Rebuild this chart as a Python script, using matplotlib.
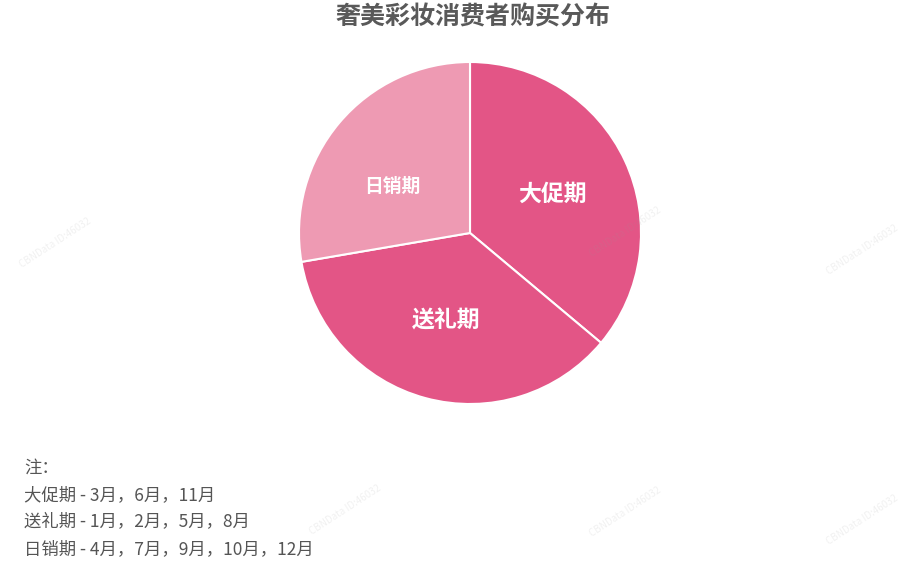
import matplotlib
matplotlib.use('Agg')
import matplotlib.pyplot as plt

plt.rcParams['font.family'] = ['Noto Sans CJK SC', 'DejaVu Sans']

# data
periods = ['大促期', '送礼期', '日销期']
shares = [36.1, 36.2, 27.7]
colors = ['#e35586', '#e35586', '#ee9ab3']
label_sizes = [16.5, 16.5, 13.5]

notes = [
    '注：',
    '大促期 - 3月，6月，11月',
    '送礼期 - 1月，2月，5月，8月',
    '日销期 - 4月，7月，9月，10月，12月',
]

W, H = 909, 574
fig = plt.figure(figsize=(W / 100, H / 100), dpi=100)
fig.patch.set_facecolor('white')

# faint watermarks
for wx, wy in [(55, 243), (625, 232), (862, 250), (345, 510), (625, 512), (862, 520)]:
    fig.text(wx / W, 1 - wy / H, 'CBNData ID:46032', fontsize=7, color='#999999',
             alpha=0.14, rotation=33, ha='center', va='center', zorder=5)

# pie centred at (470, 233), radius 171 px
cx, cy, r = 470, 233, 171
ax = fig.add_axes([(cx - r) / W, 1 - (cy + r) / H, 2 * r / W, 2 * r / H])
wedges, texts = ax.pie(shares, labels=periods, colors=colors, startangle=90,
                       counterclock=False, labeldistance=0.53,
                       wedgeprops=dict(edgecolor='white', linewidth=1.5),
                       textprops=dict(color='white', fontweight='bold',
                                      ha='center', va='center'))
for t, s in zip(texts, label_sizes):
    t.set_fontsize(s)
# small nudge so the 日销期 label sits like the original
x, y = texts[2].get_position()
texts[2].set_position((x - 0.05, y - 0.07))

ax.set_xlim(-1, 1)
ax.set_ylim(-1, 1)
ax.set_aspect('equal')
ax.axis('off')

fig.text(473 / W, 1 - 17 / H, '奢美彩妆消费者购买分布', fontsize=18,
         fontweight='bold', color='#595959', ha='center', va='center')

for i, line in enumerate(notes):
    fig.text(24 / W, 1 - (468 + 27 * i) / H, line, fontsize=12.5,
             color='#555555', ha='left', va='center')

plt.savefig('out.png', dpi=100)
